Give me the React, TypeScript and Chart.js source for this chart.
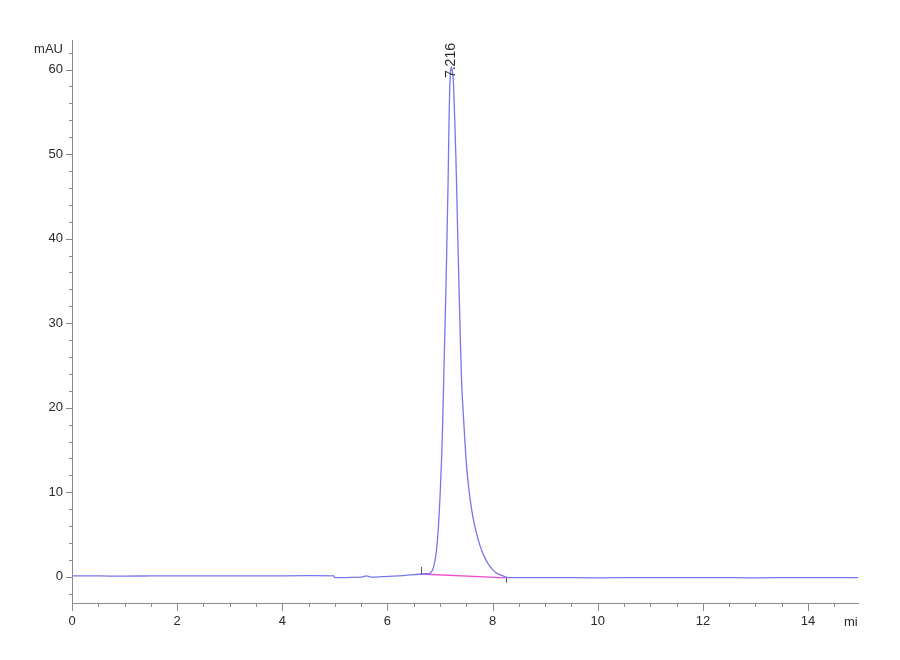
import { useEffect, useRef } from "react";
import { Chart, registerables } from "chart.js";

Chart.register(...registerables);

// Retention time (min) and detector signal (mAU)
const TIME_MIN = [
  0, 0.5, 1.0, 1.5, 2.0, 2.5, 3.0, 3.5, 4.0, 4.5, 4.98,
  5.0, 5.3, 5.5, 5.6, 5.7, 6.0, 6.3, 6.6, 6.7, 6.78, 6.82,
  6.88, 6.93, 6.97, 7.0, 7.03, 7.05, 7.07, 7.09, 7.116, 7.135, 7.154, 7.17, 7.185, 7.2,
  7.216,
  7.235, 7.255, 7.28, 7.3, 7.313, 7.335, 7.358, 7.385, 7.409, 7.45, 7.5, 7.55, 7.6,
  7.65, 7.7, 7.75, 7.8, 7.85, 7.9, 7.95, 8.0, 8.05, 8.1, 8.2, 8.3,
  9.0, 10.0, 11.0, 12.0, 13.0, 14.0, 14.95,
];
const SIGNAL_MAU = [
  0.1, 0.1, 0.08, 0.1, 0.12, 0.12, 0.1, 0.1, 0.12, 0.13, 0.12,
  -0.1, -0.08, -0.05, 0.1, -0.05, 0.05, 0.15, 0.3, 0.35, 0.38, 0.45,
  1.2, 3.0, 6.0, 9.5, 14.0, 18.0, 23.3, 28.5, 35.1, 41.0, 46.9, 53.5, 58.0, 59.8,
  60.3,
  59.8, 58.5, 54.0, 50.0, 46.9, 41.0, 35.1, 28.5, 23.3, 18.5, 13.5, 10.3, 8.0,
  6.3, 5.0, 3.9, 3.0, 2.3, 1.7, 1.2, 0.85, 0.55, 0.35, 0.1, -0.1,
  -0.1, -0.12, -0.1, -0.1, -0.12, -0.1, -0.1,
];

// Integration baseline of the peak
const BASELINE_TIME = [6.63, 8.25];
const BASELINE_MAU = [0.33, -0.12];

const X_TICKS = [0, 2, 4, 6, 8, 10, 12, 14];
const Y_TICKS = [0, 10, 20, 30, 40, 50, 60];

const PEAK_TIME = 7.216;
const PEAK_MAU = 60.3;
const PEAK_LABEL = "7.216";

const X_MIN = 0;
const X_MAX = 14.95;
const Y_MIN = -3.1;
const Y_MAX = 63.5;

const AXIS_COLOR = "#8a8a8a";
const TEXT_COLOR = "#2a2a2a";
const TICK_FONT = "'Liberation Sans', Arial, sans-serif";

export default function App() {
  const canvasRef = useRef<HTMLCanvasElement | null>(null);

  useEffect(() => {
    const canvas = canvasRef.current;
    if (!canvas) return;

    const decorations = {
      id: "decorations",
      afterDraw(chart: any) {
        const { ctx, chartArea } = chart;
        const xs = chart.scales.x;
        const ys = chart.scales.y;
        ctx.save();
        ctx.strokeStyle = AXIS_COLOR;
        ctx.lineWidth = 1;
        ctx.beginPath();
        // x tick marks (major every 2 min, minor every 0.5 min)
        for (let i = 0; i * 0.5 <= X_MAX; i++) {
          const v = i * 0.5;
          const px = Math.round(xs.getPixelForValue(v)) + 0.5;
          const len = i % 4 === 0 ? 8 : 4;
          ctx.moveTo(px, chartArea.bottom);
          ctx.lineTo(px, chartArea.bottom + len);
        }
        // y tick marks (major every 10 mAU, minor every 2 mAU)
        for (let v = -2; v <= Y_MAX; v += 2) {
          const py = Math.round(ys.getPixelForValue(v)) + 0.5;
          const len = v % 10 === 0 ? 6 : 3;
          ctx.moveTo(chartArea.left - len, py);
          ctx.lineTo(chartArea.left, py);
        }
        ctx.stroke();

        // integration baseline start/end markers
        ctx.strokeStyle = "#555555";
        ctx.beginPath();
        const sx = Math.round(xs.getPixelForValue(BASELINE_TIME[0])) + 0.5;
        const sy = ys.getPixelForValue(BASELINE_MAU[0]);
        ctx.moveTo(sx, sy - 7);
        ctx.lineTo(sx, sy);
        const ex = Math.round(xs.getPixelForValue(BASELINE_TIME[1])) + 0.5;
        const ey = ys.getPixelForValue(BASELINE_MAU[1]);
        ctx.moveTo(ex, ey);
        ctx.lineTo(ex, ey + 5);
        ctx.stroke();

        // axis unit labels
        ctx.fillStyle = TEXT_COLOR;
        ctx.font = `13px ${TICK_FONT}`;
        ctx.textAlign = "right";
        ctx.textBaseline = "middle";
        ctx.fillText("mAU", chartArea.left - 9, chartArea.top + 9);

        ctx.save();
        ctx.beginPath();
        ctx.rect(0, chartArea.bottom + 5, chartArea.right, 40);
        ctx.clip();
        ctx.textAlign = "left";
        ctx.fillText("min", chartArea.right - 14, chartArea.bottom + 19);
        ctx.restore();

        // peak retention time label, rotated
        const lx = xs.getPixelForValue(PEAK_TIME);
        const ly = ys.getPixelForValue(PEAK_MAU);
        ctx.translate(lx, ly + 11);
        ctx.rotate(-Math.PI / 2);
        ctx.font = `14px ${TICK_FONT}`;
        ctx.textAlign = "left";
        ctx.textBaseline = "middle";
        ctx.fillText(PEAK_LABEL, 0, 0);
        ctx.restore();
      },
    };

    const chart = new Chart(canvas, {
      type: "line",
      data: {
        datasets: [
          {
            label: "Signal",
            data: TIME_MIN.map((t, i) => ({ x: t, y: SIGNAL_MAU[i] })),
            borderColor: "#7676ee",
            borderWidth: 1.3,
            pointRadius: 0,
            cubicInterpolationMode: "monotone",
            fill: false,
          },
          {
            label: "Baseline",
            data: BASELINE_TIME.map((t, i) => ({ x: t, y: BASELINE_MAU[i] })),
            borderColor: "#f050d0",
            borderWidth: 1.3,
            pointRadius: 0,
            fill: false,
          },
        ],
      },
      options: {
        animation: false,
        responsive: true,
        maintainAspectRatio: false,
        layout: { padding: { top: 40, right: 42, left: 0, bottom: 0 } },
        plugins: {
          legend: { display: false },
          tooltip: { enabled: false },
        },
        scales: {
          x: {
            type: "linear",
            min: X_MIN,
            max: X_MAX,
            afterBuildTicks: (scale: any) => {
              scale.ticks = X_TICKS.map((v) => ({ value: v }));
            },
            afterFit: (scale: any) => {
              scale.height = 57;
            },
            grid: { display: false, drawTicks: false },
            border: { display: true, color: AXIS_COLOR, width: 1 },
            ticks: {
              color: TEXT_COLOR,
              font: { family: TICK_FONT, size: 13 },
              padding: 11,
              maxRotation: 0,
              autoSkip: false,
            },
          },
          y: {
            type: "linear",
            min: Y_MIN,
            max: Y_MAX,
            afterBuildTicks: (scale: any) => {
              scale.ticks = Y_TICKS.map((v) => ({ value: v }));
            },
            afterFit: (scale: any) => {
              scale.width = 72;
            },
            grid: { display: false, drawTicks: false },
            border: { display: true, color: AXIS_COLOR, width: 1 },
            ticks: {
              color: TEXT_COLOR,
              font: { family: TICK_FONT, size: 13 },
              padding: 9,
              autoSkip: false,
            },
          },
        },
      },
      plugins: [decorations],
    } as any);

    return () => chart.destroy();
  }, []);

  return (
    <div style={{ position: "absolute", left: 0, top: 0, width: 900, height: 660, background: "#fff" }}>
      <canvas ref={canvasRef} />
    </div>
  );
}
